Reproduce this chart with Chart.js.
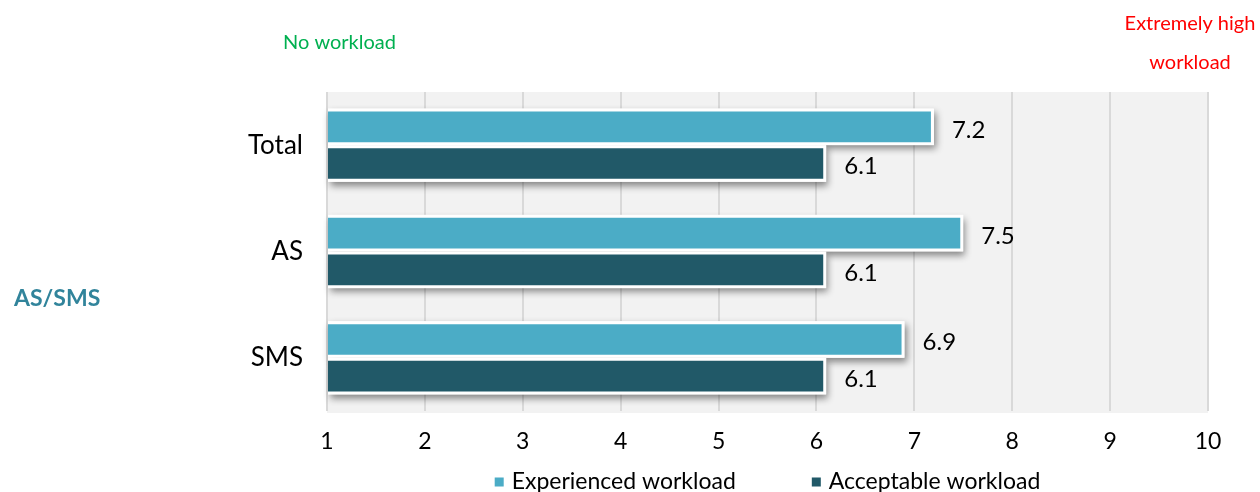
<!DOCTYPE html>
<html>
<head>
<meta charset="utf-8">
<script src="https://cdn.jsdelivr.net/npm/chart.js@4.4.1/dist/chart.umd.min.js"></script>
<style>
html,body{margin:0;padding:0;background:#fff}
#wrap{width:1260px;height:492px}
</style>
</head>
<body>
<div id="wrap"><canvas id="workload" width="1260" height="492"></canvas></div>
<script>
const groups=["Total","AS","SMS"]
const experienced=[7.2,7.5,6.9]
const acceptable=[6.1,6.1,6.1]
const scaleMin=1, scaleMax=10
const seriesNames=["Experienced workload","Acceptable workload"]
const seriesColors=["#4bacc6","#215968"]
const FONT="Lato, 'Open Sans', sans-serif"

// grey panel behind the bars
const plotBg={
  id:"plotBg",
  beforeDraw(chart){
    const {ctx,chartArea:a}=chart
    ctx.save()
    ctx.fillStyle="#f2f2f2"
    ctx.fillRect(a.left,a.top,a.right-a.left,a.bottom-a.top+2)
    ctx.restore()
  }
}

// soft drop shadow under every bar, painted before the bars themselves
const barShadow={
  id:"barShadow",
  beforeDatasetsDraw(chart){
    const ctx=chart.ctx
    ctx.save()
    ctx.shadowColor="rgba(0,0,0,0.45)"
    ctx.shadowBlur=7
    ctx.shadowOffsetX=2
    ctx.shadowOffsetY=4
    ctx.fillStyle="#fff"
    chart.data.datasets.forEach((d,i)=>{
      chart.getDatasetMeta(i).data.forEach(bar=>{
        const {x,y,base,height}=bar.getProps(["x","y","base","height"],true)
        ctx.fillRect(base,y-height/2,x-base,height)
      })
    })
    ctx.restore()
  }
}

// value printed to the right of each bar
const valueLabels={
  id:"valueLabels",
  afterDatasetsDraw(chart){
    const ctx=chart.ctx
    ctx.save()
    ctx.font="24px "+FONT
    ctx.fillStyle="#000"
    ctx.textBaseline="middle"
    ctx.textAlign="left"
    chart.data.datasets.forEach((d,i)=>{
      chart.getDatasetMeta(i).data.forEach((bar,j)=>{
        const {x,y}=bar.getProps(["x","y"],true)
        ctx.fillText(d.data[j].toFixed(1),x+18,y+3)
      })
    })
    ctx.restore()
  }
}

// side captions, scale-end notes and the series key under the axis
const captions={
  id:"captions",
  afterDraw(chart){
    const ctx=chart.ctx, a=chart.chartArea
    ctx.save()
    ctx.textBaseline="middle"
    ctx.font="bold 23px "+FONT
    ctx.fillStyle="#31849b"
    ctx.textAlign="left"
    ctx.fillText("AS/SMS",14,299)
    ctx.font="20px "+FONT
    ctx.fillStyle="#00b050"
    ctx.fillText("No workload",283,43)
    ctx.fillStyle="#ff0000"
    ctx.textAlign="center"
    ctx.fillText("Extremely high",1190,24)
    ctx.fillText("workload",1190,63)

    // key: small square + series name, centred under the plot
    ctx.font="23px "+FONT
    ctx.textAlign="left"
    const box=9, gap=8, spacing=76, y=481
    const items=chart.data.datasets.map(d=>({text:d.label,color:d.backgroundColor,w:box+gap+ctx.measureText(d.label).width}))
    const total=items.reduce((s,it)=>s+it.w,0)+spacing*(items.length-1)
    let x=(a.left+a.right)/2-total/2
    items.forEach(it=>{
      ctx.fillStyle=it.color
      ctx.fillRect(x,y-box/2+1,box,box)
      ctx.fillStyle="#000"
      ctx.fillText(it.text,x+box+gap,y+1)
      x+=it.w+spacing
    })
    ctx.restore()
  }
}

new Chart(document.getElementById("workload"),{
  type:"bar",
  data:{
    labels:groups,
    datasets:[
      {label:seriesNames[0],data:experienced,backgroundColor:seriesColors[0],borderColor:"#fff",borderWidth:3,base:scaleMin,barPercentage:1,categoryPercentage:0.69},
      {label:seriesNames[1],data:acceptable,backgroundColor:seriesColors[1],borderColor:"#fff",borderWidth:3,base:scaleMin,barPercentage:1,categoryPercentage:0.69}
    ]
  },
  options:{
    indexAxis:"y",
    responsive:false,
    animation:false,
    layout:{padding:{top:92,right:52,left:0,bottom:33}},
    scales:{
      x:{
        min:scaleMin,max:scaleMax,
        ticks:{stepSize:1,color:"#000",font:{family:FONT,size:23},padding:17},
        grid:{color:"#d9d9d9",lineWidth:2,drawTicks:false},
        border:{display:false},
        afterFit:s=>{s.height=48}
      },
      y:{
        ticks:{color:"#000",font:{family:FONT,size:26},padding:16},
        grid:{display:false},
        border:{display:false},
        afterFit:s=>{s.width=327}
      }
    },
    plugins:{
      legend:{display:false},
      tooltip:{enabled:false}
    }
  },
  plugins:[plotBg,barShadow,valueLabels,captions]
})
</script>
</body>
</html>
